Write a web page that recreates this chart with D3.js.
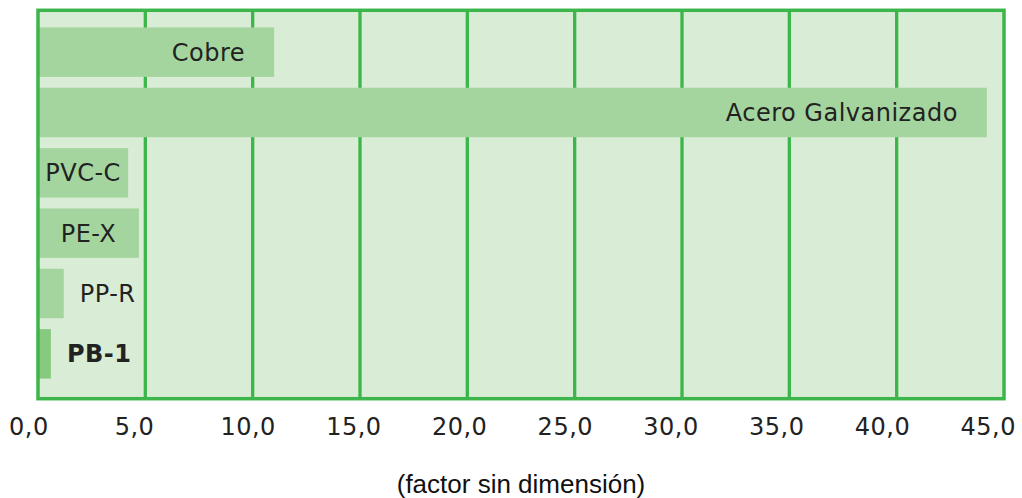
<!DOCTYPE html>
<html>
<head>
<meta charset="utf-8">
<script src="https://cdn.jsdelivr.net/npm/d3@7"></script>
<style>
  html, body { margin: 0; padding: 0; background: #ffffff; }
  svg { display: block; }
</style>
</head>
<body>
<script>
// Pipe materials and their (dimensionless) factor
const materials = ["Cobre", "Acero Galvanizado", "PVC-C", "PE-X", "PP-R", "PB-1"];
const factors = [11.0, 44.2, 4.2, 4.7, 1.2, 0.6];
const highlighted = ["PB-1"];
const tickValues = [0, 5, 10, 15, 20, 25, 30, 35, 40, 45];
const axisTitle = "(factor sin dimensión)";

const W = 1022, H = 498;
const plot = { left: 38, right: 1004, top: 10.3, bottom: 398.7 };

const svg = d3.select("body").append("svg")
  .attr("width", W).attr("height", H);

const x = d3.scaleLinear().domain([0, 45]).range([plot.left, plot.right]);
const y = d3.scaleBand().domain(materials).range([22, 384])
  .paddingInner(0.18).paddingOuter(0.09);

const lineColor = "#3cb64a";

// plot background
svg.append("rect")
  .attr("x", x(0)).attr("y", plot.top)
  .attr("width", x(45) - x(0)).attr("height", plot.bottom - plot.top)
  .attr("fill", "#d9ecd5");

// vertical grid lines
svg.append("g").selectAll("line")
  .data(tickValues.filter(v => v > 0 && v < 45))
  .join("line")
  .attr("x1", d => x(d)).attr("x2", d => x(d))
  .attr("y1", plot.top).attr("y2", plot.bottom)
  .attr("stroke", lineColor).attr("stroke-width", 3.3);

// bars
const data = materials.map((m, i) => ({ name: m, value: factors[i] }));
svg.append("g").selectAll("rect")
  .data(data)
  .join("rect")
  .attr("x", x(0))
  .attr("y", d => y(d.name))
  .attr("width", d => x(d.value) - x(0))
  .attr("height", y.bandwidth())
  .attr("fill", d => highlighted.includes(d.name) ? "#86c97f" : "#a4d59e");

// frame
svg.append("rect")
  .attr("x", x(0)).attr("y", plot.top)
  .attr("width", x(45) - x(0)).attr("height", plot.bottom - plot.top)
  .attr("fill", "none")
  .attr("stroke", lineColor).attr("stroke-width", 3.5);

// bar labels: inside at the end, centred, or after the bar depending on room
const labels = svg.append("g").selectAll("text")
  .data(data)
  .join("text")
  .attr("y", d => y(d.name) + y.bandwidth() / 2)
  .attr("dy", "0.36em")
  .attr("font-family", "'DejaVu Sans', Verdana, sans-serif")
  .attr("font-size", 24)
  .attr("letter-spacing", 0.5)
  .attr("font-weight", d => highlighted.includes(d.name) ? "bold" : "normal")
  .attr("fill", "#222")
  .text(d => d.name);

labels.each(function(d) {
  const tw = this.getComputedTextLength();
  const bw = x(d.value) - x(0);
  const t = d3.select(this);
  if (bw > tw + 58) {
    t.attr("x", x(d.value) - 29).attr("text-anchor", "end");
  } else if (bw > tw + 8) {
    t.attr("x", x(0) + bw / 2).attr("text-anchor", "middle");
  } else {
    t.attr("x", x(d.value) + 16).attr("text-anchor", "start");
  }
});

// tick labels along the bottom
const labelScale = d3.scaleLinear().domain([0, 45]).range([8.5, 960]);
const axis = d3.axisBottom(labelScale)
  .tickValues(tickValues)
  .tickSize(0)
  .tickPadding(0)
  .tickFormat(d => d3.format(".1f")(d).replace(".", ","));

const gAxis = svg.append("g")
  .attr("transform", "translate(0,434.5)")
  .call(axis);
gAxis.select(".domain").remove();
gAxis.selectAll("text")
  .attr("y", 0).attr("dy", 0)
  .attr("text-anchor", "start")
  .attr("font-family", "'DejaVu Sans', Verdana, sans-serif")
  .attr("font-size", 24)
  .attr("letter-spacing", 0.5)
  .attr("fill", "#222");

// axis title
svg.append("text")
  .attr("x", 521).attr("y", 493)
  .attr("text-anchor", "middle")
  .attr("font-family", "'Liberation Sans', Arial, sans-serif")
  .attr("font-size", 26)
  .attr("fill", "#111")
  .text(axisTitle);
</script>
</body>
</html>
